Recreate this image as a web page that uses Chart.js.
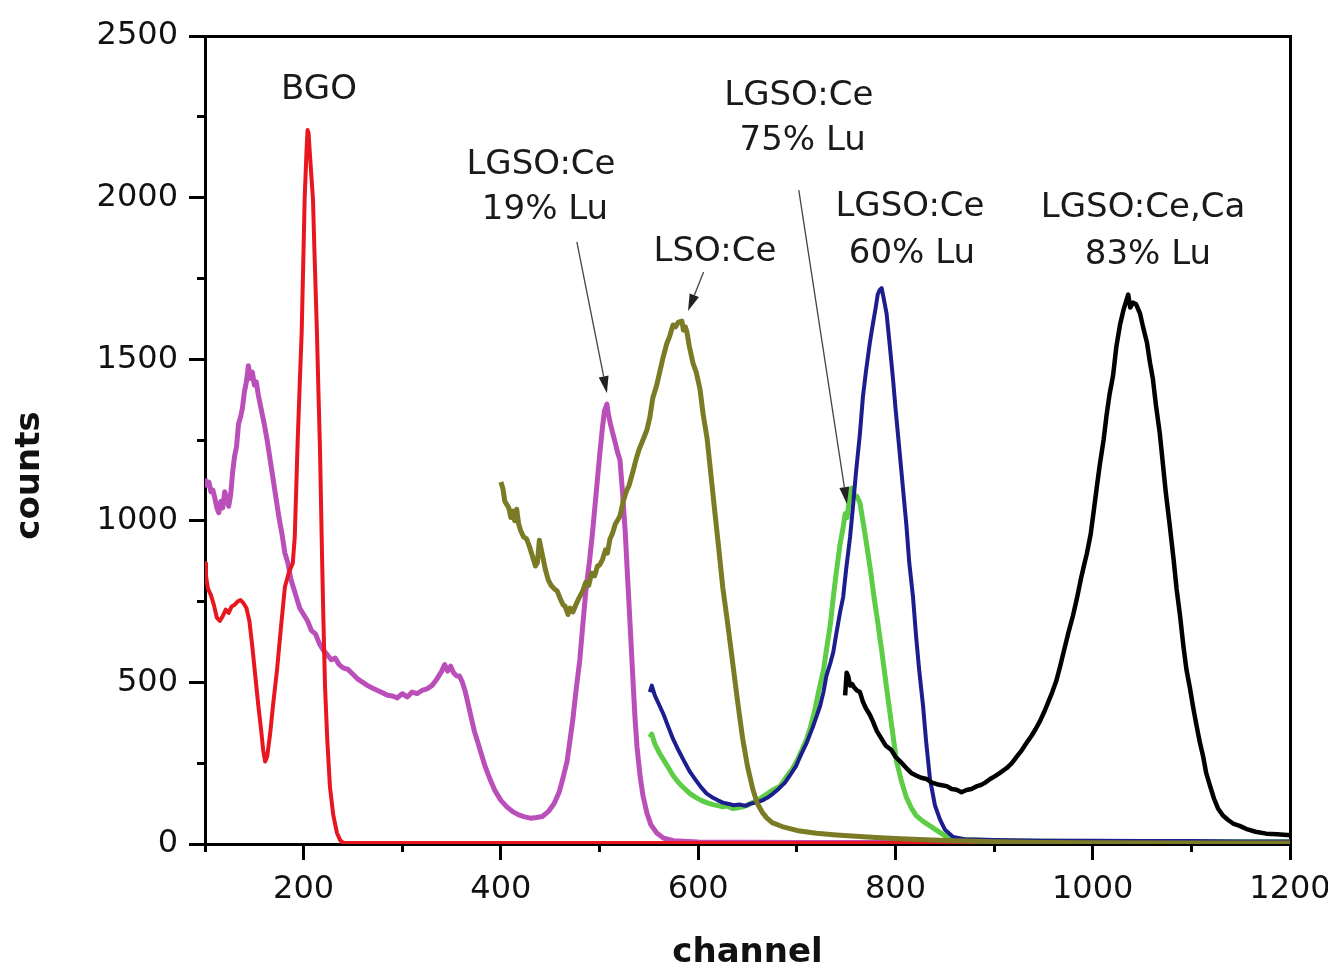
<!DOCTYPE html>
<html>
<head>
<meta charset="utf-8">
<script src="https://cdn.jsdelivr.net/npm/chart.js@4/dist/chart.umd.min.js"></script>
<style>
  html, body { margin: 0; padding: 0; background: #ffffff; }
  #wrap { width: 1328px; height: 971px; position: relative; }
  canvas { display: block; }
</style>
</head>
<body>
<div id="wrap"><canvas id="c" width="1328" height="971"></canvas></div>
<script>
// ---------------- data ----------------
const xTickValues = [200, 400, 600, 800, 1000, 1200];
const xMinorTickValues = [100, 200, 300, 400, 500, 600, 700, 800, 900, 1000, 1100, 1200];
const yTickValues = [0, 500, 1000, 1500, 2000, 2500];
const yMinorTickValues = [0, 250, 500, 750, 1000, 1250, 1500, 1750, 2000, 2250, 2500];

const seriesNames = ["BGO", "LGSO:Ce 19% Lu", "LSO:Ce", "LGSO:Ce 75% Lu", "LGSO:Ce 60% Lu", "LGSO:Ce,Ca 83% Lu"];

const bgoChannels = [100,101,103,106,109,112,115,118,121,124,127,130,133,136,139,142,145,148,151,154,157,159,161,163,166,169,173,177,181,185,189,191,193,194,196,198,200,201,203,204,205,206,208,209.5,211,213.5,215,216.6,218.6,220,221.7,224,226.7,230,233.8,237,240,260,300,400,500,600,700,800,900,1000,1100,1200];
const bgoCounts   = [869,830,790,770,740,700,690,705,725,715,735,740,750,755,745,730,690,610,520,430,350,290,255,270,340,430,538,670,795,840,869,950,1150,1250,1420,1581,1850,1993,2150,2209,2200,2150,2060,1993,1830,1581,1400,1219,900,700,486,320,176,90,34,12,4,3,3,3,3,3,3,3,3,3,3,3];

const lu19Channels = [100,102,104,106,108,110,112,114,116,118,120,122,124,126,128,130,132,134,136,138,140,142,144,146,148,150,152,154,156,158,160,163,166,169,172,175,178,181,184,187,190,193,196,200,204,208,212,216,220,224,228,232,236,240,245,250,255,260,265,270,275,280,285,290,295,300,305,310,315,320,325,330,335,340,343,346,349,352,355,358,361,364,367,370,373,376,380,384,389,394,400,406,412,418,424,430,436,442,448,454,459,463,467,470,473,476,480,483,486,490,493,497,500,503,505,507.5,509,511,513.6,516,518,520.7,523,526,528,531,534,536,538,541,544,548,552,558,565,575,600,700,800,900,1000,1100,1200];
const lu19Counts   = [1130,1110,1120,1090,1095,1070,1040,1025,1060,1040,1090,1070,1045,1080,1150,1200,1230,1300,1320,1350,1400,1430,1480,1440,1460,1420,1430,1390,1360,1330,1300,1250,1190,1130,1070,1010,960,900,870,820,790,760,730,710,690,660,650,620,600,585,570,575,555,545,540,525,510,500,490,482,475,468,460,458,452,465,455,470,465,475,480,490,510,535,555,535,550,530,520,520,500,470,430,390,350,320,280,240,200,165,135,115,100,90,84,80,82,85,100,125,160,205,255,320,387,470,570,677,780,880,968,1100,1200,1290,1340,1361,1330,1300,1268,1240,1215,1188,1100,968,850,677,500,387,300,213,150,96,60,34,18,10,6,5,5,5,5,5,5];

const lsoChannels = [400,402,404,406,408,410,412,414,416,418,420,423,426,429,432,435,437,439,441,443,445,448,451,454,457,460,463,465,468,470,473,476,479,483,486,489,492,495,498,500,503,506,508,510.6,513,516,518,520.7,524,527,530,534,537,540,544,548,551,554,558,561,564,568,571,574.5,577,580,583.5,585,587,588.6,591,594.7,598,601.8,605,609,613,617,621,625,630,635,640,645,650,655.6,660,665,669.7,675,685,695,703,720,740,760,780,800,830,860,900,950,1000,1100,1200];
const lsoCounts   = [1120,1100,1060,1050,1040,1010,1030,1000,1036,990,970,950,944,920,890,860,870,940,910,880,850,817,800,790,783,760,740,736,710,730,718,740,760,783,810,800,838,830,860,863,880,910,900,944,960,990,1000,1015,1060,1090,1110,1154,1190,1220,1250,1281,1320,1380,1420,1460,1500,1547,1570,1606,1600,1615,1618,1590,1600,1584,1540,1488,1460,1408,1330,1256,1140,1024,910,792,680,560,440,328,240,167,125,98,80,66,54,46,40,33,28,24,20,17,13,10,7,5,4,3,3];

const lu75Channels = [551,553,556,561,566,570,574.5,580,586,591.7,597,603,608.6,615,621,625,629,635,639,645,650,655,659,665,670,676,683,690,695,700,705,710,713.6,718,722,727,731,734,737,740,744,747,749,751,753,755.8,758,761,764,767,771,775,778,781,786,791,796,801,806,811,816,821,828,835,843,852,860,880,900,1000,1100,1200];
const lu75Counts   = [330,340,310,280,255,235,212,190,172,156,145,135,128,122,118,115,118,110,111,115,120,128,133,145,155,168,179,210,230,257,290,325,359,410,470,538,620,680,764,840,931,980,1022,1010,1060,1101,1080,1075,1055,1000,922,840,770,708,600,483,370,257,195,145,112,88,70,56,40,22,15,12,10,8,7,7];

const lu60Channels = [551,553,556,561,565,570,574.5,580,586,591.7,597,603,608.6,614,620,625,631,636,642,648,653,659,665,670,676,682,688,693,699,704,710,716,720,723.6,727,730,734,737,740,744,747,750,754,757,760,764,767,770,774,777,780,782,784,786,788,791,794,797.5,800,804,807.6,811,814,817.8,821,824,828,831,835,840,845,850,858.5,870,900,950,1000,1050,1100,1150,1200];
const lu60Counts   = [470,490,460,427,400,360,325,290,255,223,200,175,156,145,135,128,124,120,122,118,125,128,135,143,156,172,190,212,240,275,313,360,395,427,470,520,560,594,650,720,764,850,950,1046,1150,1270,1383,1460,1550,1607,1660,1700,1714,1720,1690,1641,1550,1439,1350,1220,1101,990,870,764,640,540,427,320,201,120,77,45,22,15,12,10,10,9,9,8,8];

const lu83Channels = [749,750.5,752,754,756,758,761,764,767,770,774,777,781,785,790,795.8,800,805,811,816,821,826,831.6,837,842,847,852,857,862,867,872,877,882,887,891,896,901,906,912.8,918,923,928,933,938,942,946.5,951,955,959,963,967,971,975,980,984,988,991,994,998,1001,1004,1007,1011,1014,1017,1020.6,1024,1027.7,1031,1034.5,1036,1038,1041,1044,1048,1051,1055,1058,1061,1064,1068,1071,1074,1078,1082,1085,1088.5,1092,1095,1098.6,1102,1105,1108.7,1112,1115,1119,1123,1127,1132,1137,1143,1149,1157,1165,1176,1187,1197,1200];
const lu83Counts   = [460,530,520,490,495,485,475,470,440,420,400,380,350,330,305,291,270,255,235,220,212,205,201,190,185,182,179,170,168,160,167,170,178,183,190,201,210,220,235,250,270,290,313,335,355,380,410,440,470,504,550,600,650,707,760,820,860,898,960,1030,1101,1170,1250,1326,1390,1449,1540,1607,1650,1686,1700,1660,1675,1670,1641,1600,1551,1490,1439,1360,1270,1180,1090,988,880,790,707,610,540,482,420,370,313,270,220,179,140,110,88,75,62,56,45,38,32,30,28,28];

const seriesColors = ["#e8171f", "#bb4fb9", "#7b7b26", "#5ccd45", "#1c1d8e", "#000000"];

// annotation texts and their anchor points (channel, counts)
const labelTexts = ["BGO", "LGSO:Ce", "19% Lu", "LSO:Ce", "LGSO:Ce", "75% Lu", "LGSO:Ce", "60% Lu", "LGSO:Ce,Ca", "83% Lu"];
const labelAnchors = [[215.6,2333],[440.6,2101],[444.7,1962],[617,1832],[702,2314],[706,2175],[814.7,1971],[816.7,1825],[1051,1968],[1056,1822]];
const arrowStarts = [[477,1863],[605.5,1770],[702,2023]];
const arrowEnds   = [[507.5,1395],[589.7,1649],[750.8,1052]];

// ---------------- build ----------------
function pts(xs, ys) { return xs.map((x, i) => ({ x: x, y: ys[i] })); }

const ds = [
  { label: seriesNames[2], data: pts(lsoChannels, lsoCounts), borderColor: seriesColors[2], borderWidth: 5 },
  { label: seriesNames[0], data: pts(bgoChannels, bgoCounts), borderColor: seriesColors[0], borderWidth: 4 },
  { label: seriesNames[5], data: pts(lu83Channels, lu83Counts), borderColor: seriesColors[5], borderWidth: 4.5 },
  { label: seriesNames[4], data: pts(lu60Channels, lu60Counts), borderColor: seriesColors[4], borderWidth: 4 },
  { label: seriesNames[3], data: pts(lu75Channels, lu75Counts), borderColor: seriesColors[3], borderWidth: 5 },
  { label: seriesNames[1], data: pts(lu19Channels, lu19Counts), borderColor: seriesColors[1], borderWidth: 5 }
].map(d => Object.assign(d, { showLine: true, pointRadius: 0, fill: false, tension: 0, borderJoinStyle: 'round', xAxisID: 'x', yAxisID: 'y' }));

const annotationPlugin = {
  id: 'annot',
  afterDatasetsDraw(chart) {
    const ctx = chart.ctx, xs = chart.scales.x, ys = chart.scales.y;
    ctx.save();
    ctx.fillStyle = '#1a1a1a';
    ctx.font = '34px "DejaVu Sans"';
    ctx.textAlign = 'center';
    ctx.textBaseline = 'middle';
    labelTexts.forEach((t, i) => {
      ctx.fillText(t, xs.getPixelForValue(labelAnchors[i][0]), ys.getPixelForValue(labelAnchors[i][1]));
    });
    ctx.strokeStyle = '#444';
    ctx.fillStyle = '#222';
    ctx.lineWidth = 1.3;
    arrowStarts.forEach((s, i) => {
      const x1 = xs.getPixelForValue(s[0]), y1 = ys.getPixelForValue(s[1]);
      const x2 = xs.getPixelForValue(arrowEnds[i][0]), y2 = ys.getPixelForValue(arrowEnds[i][1]);
      const a = Math.atan2(y2 - y1, x2 - x1), L = 17, W = 5;
      const bx = x2 - L * Math.cos(a), by = y2 - L * Math.sin(a);
      ctx.beginPath(); ctx.moveTo(x1, y1); ctx.lineTo(bx, by); ctx.stroke();
      ctx.beginPath();
      ctx.moveTo(x2, y2);
      ctx.lineTo(bx + W * Math.sin(a), by - W * Math.cos(a));
      ctx.lineTo(bx - W * Math.sin(a), by + W * Math.cos(a));
      ctx.closePath(); ctx.fill();
    });
    ctx.restore();
  }
};

const tickFont = { family: '"DejaVu Sans"', size: 32 };
const titleFont = { family: '"DejaVu Sans"', size: 34, weight: 'bold', lineHeight: 1 };

new Chart(document.getElementById('c'), {
  type: 'scatter',
  data: { datasets: ds },
  options: {
    responsive: false,
    animation: false,
    devicePixelRatio: 1,
    layout: { padding: { top: 36, right: 38, left: 0, bottom: 0 } },
    plugins: { legend: { display: false }, tooltip: { enabled: false } },
    scales: {
      x: {
        type: 'linear', position: 'bottom', min: 100, max: 1200, weight: 1,
        afterBuildTicks: s => { s.ticks = xTickValues.map(v => ({ value: v })); },
        afterFit: s => { s.height = 127; s.paddingLeft = 0; s.paddingRight = 0; },
        ticks: { font: tickFont, color: '#111', padding: 10, maxRotation: 0, autoSkip: false, callback: v => String(v) },
        grid: { drawOnChartArea: false, tickLength: 16, tickWidth: 3, tickColor: '#000' },
        border: { display: true, color: '#000', width: 3 },
        title: { display: true, text: 'channel', font: titleFont, color: '#111', padding: { top: 0, bottom: 1 } }
      },
      xMinor: {
        type: 'linear', position: 'bottom', min: 100, max: 1200, weight: 0,
        afterBuildTicks: s => { s.ticks = xMinorTickValues.map(v => ({ value: v })); },
        afterFit: s => { s.height = 0; s.paddingLeft = 0; s.paddingRight = 0; },
        ticks: { display: false },
        grid: { drawOnChartArea: false, tickLength: 8, tickWidth: 3, tickColor: '#000' },
        border: { display: false }
      },
      xTop: {
        type: 'linear', position: 'top', min: 100, max: 1200,
        afterFit: s => { s.height = 0; s.paddingLeft = 0; s.paddingRight = 0; },
        ticks: { display: false },
        grid: { drawOnChartArea: false, drawTicks: false },
        border: { display: true, color: '#000', width: 3 }
      },
      y: {
        type: 'linear', position: 'left', min: 0, max: 2500, weight: 1,
        afterBuildTicks: s => { s.ticks = yTickValues.map(v => ({ value: v })); },
        afterFit: s => { s.width = 205; s.paddingTop = 0; s.paddingBottom = 0; },
        ticks: { font: tickFont, color: '#111', padding: 11, autoSkip: false, callback: v => String(v) },
        grid: { drawOnChartArea: false, tickLength: 16, tickWidth: 3, tickColor: '#000' },
        border: { display: true, color: '#000', width: 3 },
        title: { display: true, text: 'counts      ', font: titleFont, color: '#111', padding: { top: 13, bottom: 0 } }
      },
      yMinor: {
        type: 'linear', position: 'left', min: 0, max: 2500, weight: 0,
        afterBuildTicks: s => { s.ticks = yMinorTickValues.map(v => ({ value: v })); },
        afterFit: s => { s.width = 0; s.paddingTop = 0; s.paddingBottom = 0; },
        ticks: { display: false },
        grid: { drawOnChartArea: false, tickLength: 8, tickWidth: 3, tickColor: '#000' },
        border: { display: false }
      },
      yRight: {
        type: 'linear', position: 'right', min: 0, max: 2500,
        afterFit: s => { s.width = 0; s.paddingTop = 0; s.paddingBottom = 0; },
        ticks: { display: false },
        grid: { drawOnChartArea: false, drawTicks: false },
        border: { display: true, color: '#000', width: 3 }
      }
    }
  },
  plugins: [annotationPlugin]
});
</script>
</body>
</html>
